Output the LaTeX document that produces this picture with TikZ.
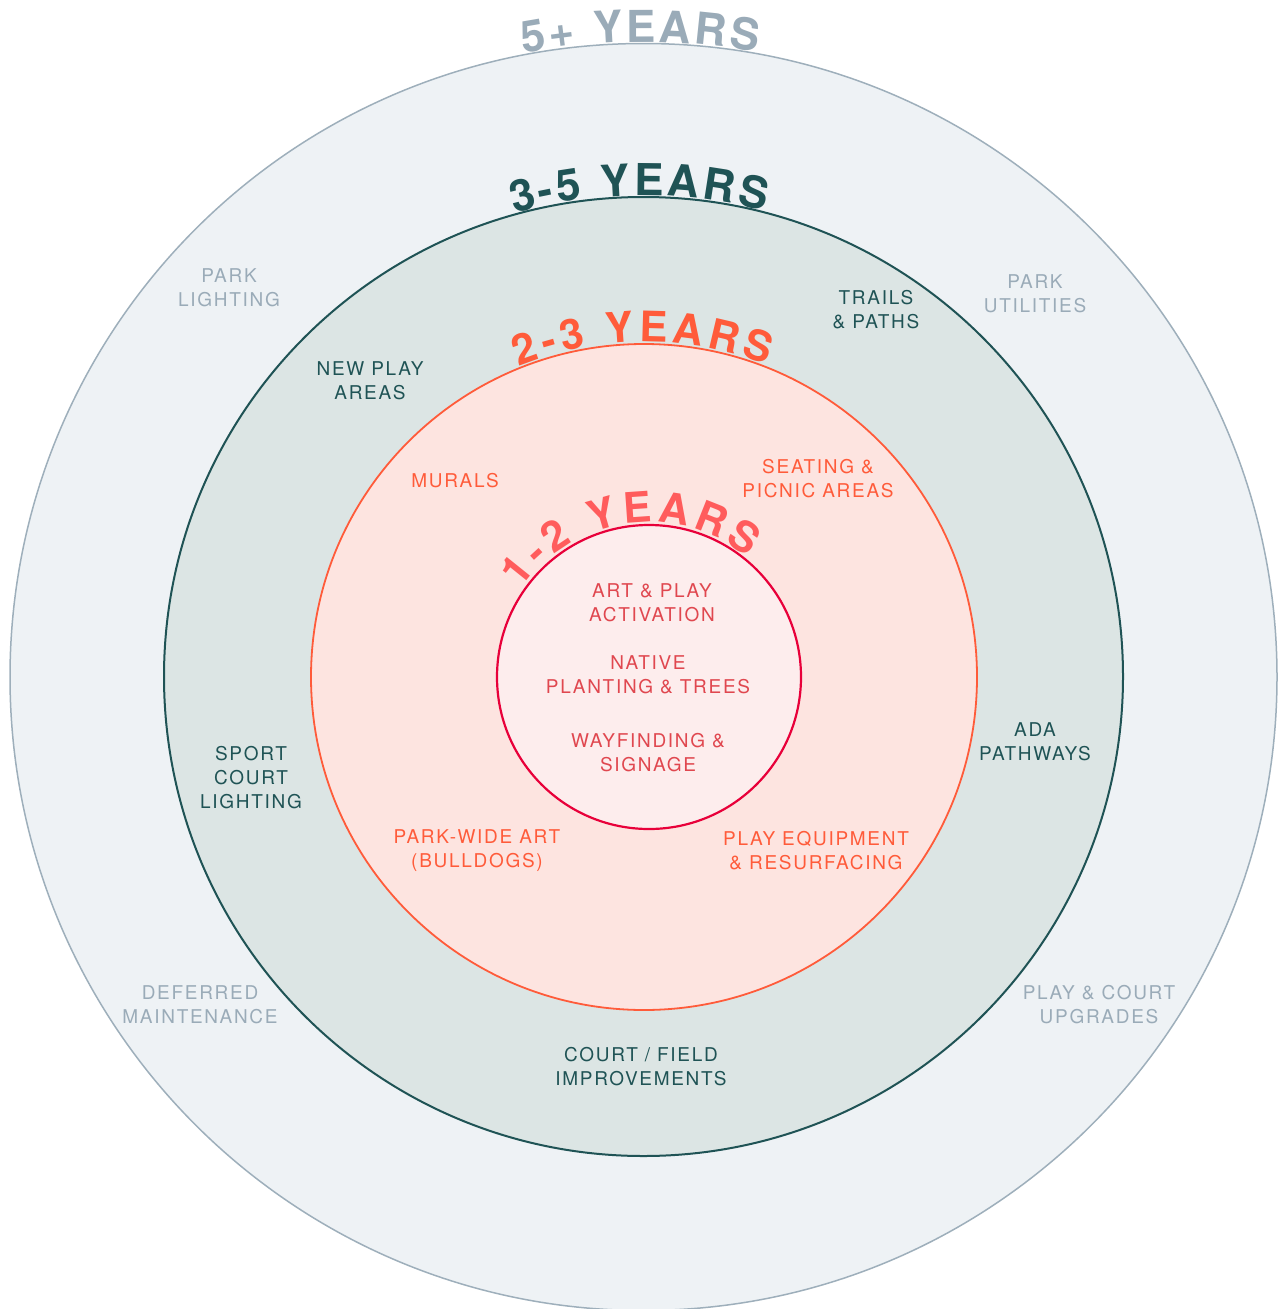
\documentclass[tikz,border=0pt]{standalone}
\usepackage{fontspec}
\setmainfont{TeX Gyre Heros}
\newfontfamily\labfam[LetterSpace=9]{TeX Gyre Heros}
\newfontfamily\titlefam{TeX Gyre Heros}
\definecolor{fillA}{HTML}{EEF2F5}
\definecolor{lineA}{HTML}{9EAFBB}
\definecolor{textA}{HTML}{9AABB8}
\definecolor{fillB}{HTML}{DCE5E4}
\definecolor{lineB}{HTML}{1F5355}
\definecolor{fillC}{HTML}{FDE4E0}
\definecolor{lineC}{HTML}{FF5B3A}
\definecolor{fillD}{HTML}{FDEDED}
\definecolor{lineD}{HTML}{E8003A}
\definecolor{titleD}{HTML}{FF5C5C}
\definecolor{textD}{HTML}{E0474F}
% #1 centre, #2 radius, #3 mid angle, #4 tracking, #5 font size, #6 colour, #7 list char/width(em)
\newcommand\arctext[7]{%
  \xdef\arcacc{0}%
  \foreach \ch/\w in {#7}{\pgfmathsetmacro\tmp{\arcacc+\w*#5+#4}\xdef\arcacc{\tmp}}%
  \pgfmathsetmacro\arcstart{#3 + (\arcacc-#4)/#2*90/pi}%
  \xdef\arcacc{0}%
  \foreach \ch/\w [count=\ci] in {#7}{%
    \pgfmathsetmacro\ang{\arcstart - (\arcacc + 0.5*\w*#5)/#2*180/pi}%
    \pgfmathsetmacro\rot{\ang-90}%
    \node[inner sep=0pt, anchor=base, rotate=\rot, font=\titlefam\bfseries\fontsize{#5}{#5}\selectfont, text=#6] (#1t\ci) at ([shift={(\ang:#2)}]#1) {\ch};
    \pgfmathsetmacro\tmp{\arcacc+\w*#5+#4}\xdef\arcacc{\tmp}}%
}
\tikzset{
  lab/.style={font=\labfam\fontsize{19}{24}\selectfont, align=center, inner sep=0pt},
}
\begin{document}
\begin{tikzpicture}[x=1pt,y=1pt]
\useasboundingbox (0,0) rectangle (1281,-1309);
\coordinate (cA) at (643.5,-677);
\coordinate (cB) at (643.5,-676.5);
\coordinate (cC) at (644,-677);
\coordinate (cD) at (649,-677);
\draw[fill=fillA, draw=lineA, line width=1.5pt] (cA) circle[radius=633.5];
\draw[fill=fillB, draw=lineB, line width=2pt] (cB) circle[radius=479.5];
\draw[fill=fillC, draw=lineC, line width=1.8pt] (cC) circle[radius=333];
\draw[fill=fillD, draw=lineD, line width=2.2pt] (cD) circle[radius=152];

\arctext{cA}{635}{90.3}{3}{44}{textA}{5/0.556,+/0.584,~/0.278,Y/0.667,E/0.667,A/0.722,R/0.722,S/0.667}
\arctext{cB}{481}{90.5}{3.3}{44}{lineB}{3/0.556,-/0.333,5/0.556,~/0.278,Y/0.667,E/0.667,A/0.722,R/0.722,S/0.667}
\arctext{cC}{335}{90.2}{4.6}{42}{lineC}{2/0.556,-/0.333,3/0.556,~/0.278,Y/0.667,E/0.667,A/0.722,R/0.722,S/0.667}
\arctext{cD}{155}{98}{5}{42}{titleD}{1/0.556,-/0.333,2/0.556,~/0.278,Y/0.667,E/0.667,A/0.722,R/0.722,S/0.667}

\node[lab, text=textA] (l1) at (229,-288) {PARK\\LIGHTING};
\node[lab, text=textA] (l2) at (1035,-294) {PARK\\UTILITIES};
\node[lab, text=textA] (l3) at (200,-1005) {DEFERRED\\MAINTENANCE};
\node[lab, text=textA] (l4) at (1099,-1005) {PLAY \& COURT\\UPGRADES};

\node[lab, text=lineB] (m1) at (876,-310) {TRAILS\\\& PATHS};
\node[lab, text=lineB] (m2) at (370,-381) {NEW PLAY\\AREAS};
\node[lab, text=lineB] (m3) at (251,-778) {SPORT\\COURT\\LIGHTING};
\node[lab, text=lineB] (m4) at (1035,-742) {ADA\\PATHWAYS};
\node[lab, text=lineB] (m5) at (641,-1067) {COURT / FIELD\\IMPROVEMENTS};

\node[lab, text=lineC] (n1) at (455,-481) {MURALS};
\node[lab, text=lineC] (n2) at (818,-479) {SEATING \&\\PICNIC AREAS};
\node[lab, text=lineC] (n3) at (477,-851) {PARK-WIDE ART\\(BULLDOGS)};
\node[lab, text=lineC] (n4) at (816,-851) {PLAY EQUIPMENT\\\& RESURFACING};

\node[lab, text=textD] (o1) at (652,-603) {ART \& PLAY\\ACTIVATION};
\node[lab, text=textD] (o2) at (648,-675) {NATIVE\\PLANTING \& TREES};
\node[lab, text=textD] (o3) at (648,-753) {WAYFINDING \&\\SIGNAGE};
\end{tikzpicture}
\end{document}
